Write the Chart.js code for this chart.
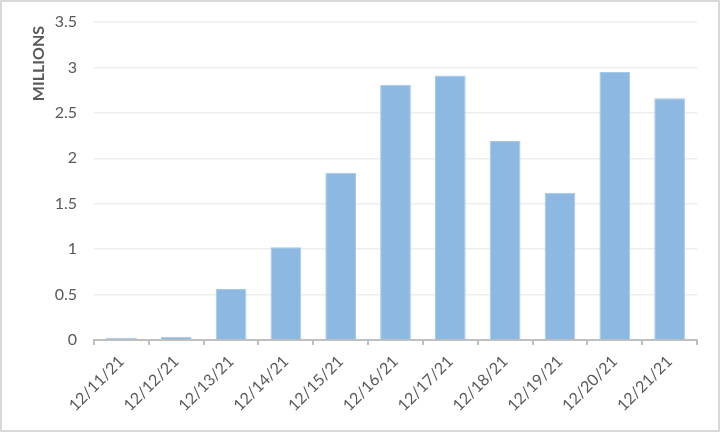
<!DOCTYPE html>
<html>
<head>
<meta charset="utf-8">
<script src="https://cdn.jsdelivr.net/npm/chart.js@4"></script>
<style>
    body { margin: 0; background: #fff; }
    #wrap {
        width: 720px;
        height: 432px;
        box-sizing: border-box;
        border: 2px solid #d9d9d9;
        position: relative;
    }
</style>
</head>
<body>
<div id="wrap"><canvas id="chart"></canvas></div>
<script>
const dates = ["12/11/21", "12/12/21", "12/13/21", "12/14/21", "12/15/21", "12/16/21",
    "12/17/21", "12/18/21", "12/19/21", "12/20/21", "12/21/21"];
const millions = [0.025, 0.035, 0.56, 1.02, 1.84, 2.81, 2.91, 2.19, 1.62, 2.95, 2.66];

const textColor = "#595959";
const fontFamily = "Lato, 'Noto Sans', sans-serif";

new Chart(document.getElementById("chart"), {
    type: "bar",
    data: {
        labels: dates,
        datasets: [{
            data: millions,
            backgroundColor: "#8db8e2",
            borderColor: "#a6c9ea",
            borderWidth: 1,
            barPercentage: 0.56,
            categoryPercentage: 1,
        }],
    },
    options: {
        responsive: true,
        maintainAspectRatio: false,
        animation: false,
        layout: { padding: { top: 20, right: 21, left: 0, bottom: 0 } },
        plugins: {
            legend: { display: false },
            tooltip: { enabled: false },
        },
        scales: {
            x: {
                grid: {
                    offset: true,
                    drawOnChartArea: false,
                    drawTicks: true,
                    tickLength: 5,
                    color: "#bfbfbf",
                    lineWidth: 2,
                },
                border: { color: "#bfbfbf", width: 2 },
                ticks: {
                    minRotation: 45,
                    maxRotation: 45,
                    padding: 7,
                    color: textColor,
                    font: { family: fontFamily, size: 16 },
                },
                afterFit: (scale) => { scale.height = 90; },
            },
            y: {
                min: 0,
                max: 3.5,
                ticks: {
                    stepSize: 0.5,
                    padding: 2,
                    color: textColor,
                    font: { family: fontFamily, size: 16 },
                    callback: (v) => String(v),
                },
                grid: {
                    color: "#eeeeee",
                    lineWidth: 1.5,
                    drawTicks: true,
                    tickLength: 15,
                    tickColor: "rgba(0,0,0,0)",
                },
                border: { display: false },
                title: {
                    display: true,
                    text: "MILLIONS ",
                    align: "end",
                    color: textColor,
                    font: { family: fontFamily, size: 16, weight: "bold" },
                    padding: { top: 27, bottom: 0 },
                },
                afterFit: (scale) => { scale.width = 92; },
            },
        },
    },
});
</script>
</body>
</html>
